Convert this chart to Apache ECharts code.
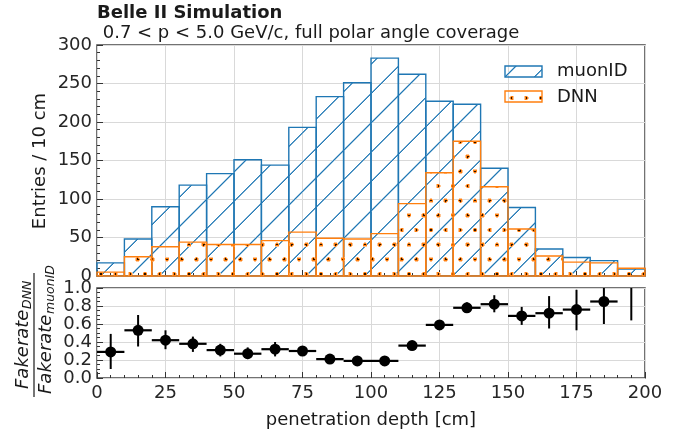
<!DOCTYPE html>
<html>
<head>
<meta charset="utf-8">
<script src="https://cdn.jsdelivr.net/npm/echarts@6/dist/echarts.min.js"></script>
<style>
  html, body { margin: 0; padding: 0; background: #fff; }
  #chart { width: 687px; height: 434px; }
</style>
</head>
<body>
<div id="chart"></div>
<script>
"use strict";

// histogram bins (10 cm wide)
const binLow = [0, 10, 20, 30, 40, 50, 60, 70, 80, 90, 100, 110, 120, 130, 140, 150, 160, 170, 180, 190];
const binWidth = 10;
const muonID = [17, 48, 90, 118, 133, 151, 144, 193, 233, 251, 283, 262, 227, 223, 140, 89, 35, 24, 20, 9];
const dnn = [5, 25, 38, 44, 41, 41, 46, 57, 49, 48, 55, 94, 134, 175, 116, 61, 26, 18, 17, 10];

// fake rate ratio DNN / muonID
const ratioX = [5, 15, 25, 35, 45, 55, 65, 75, 85, 95, 105, 115, 125, 135, 145, 155, 165, 175, 185, 195];
const ratio = [0.29, 0.53, 0.42, 0.38, 0.31, 0.27, 0.32, 0.30, 0.21, 0.19, 0.19, 0.36, 0.59, 0.78, 0.82, 0.69, 0.72, 0.76, 0.85, 1.1];
const ratioLo = [0.10, 0.35, 0.32, 0.29, 0.24, 0.21, 0.24, 0.25, 0.18, 0.16, 0.17, 0.33, 0.55, 0.73, 0.73, 0.59, 0.55, 0.53, 0.60, 0.64];
const ratioHi = [0.49, 0.70, 0.53, 0.46, 0.38, 0.34, 0.40, 0.35, 0.24, 0.22, 0.22, 0.40, 0.64, 0.84, 0.92, 0.79, 0.91, 0.98, 1.10, 1.50];

const blue = '#1f77b4';
const orange = '#ff7f0e';
const font = 'DejaVu Sans';

// pixels are written fully opaque or fully transparent (thin antialiased strokes came out dark)
function putPixel(img, w, x, y, rgb, cov) {
  const i = (y * w + x) * 4;
  const a = Math.min(1, cov);
  img.data[i] = Math.round(255 + (rgb[0] - 255) * a);
  img.data[i + 1] = Math.round(255 + (rgb[1] - 255) * a);
  img.data[i + 2] = Math.round(255 + (rgb[2] - 255) * a);
  img.data[i + 3] = 255;
}

// hatch "/" pattern, lines every 88/3 px, anchored to canvas origin
function makeHatch() {
  const w = 88, h = 88;
  const c = document.createElement('canvas');
  c.width = w; c.height = h;
  const ctx = c.getContext('2d');
  const img = ctx.createImageData(w, h);
  const step = 88 / 3;
  for (let y = 0; y < h; y++) {
    for (let x = 0; x < w; x++) {
      let d = ((x + y + 1 - 24.7) % step + step) % step;
      d = Math.min(d, step - d);
      const cov = 1 - d / 1.5;
      if (cov > 0.2) putPixel(img, w, x, y, [31, 119, 180], cov * 1.2);
    }
  }
  ctx.putImageData(img, 0, 0);
  return c;
}

// dot pattern, staggered grid every 44/3 px
function makeDots() {
  const w = 44, h = 88;
  const c = document.createElement('canvas');
  c.width = w; c.height = h;
  const ctx = c.getContext('2d');
  const img = ctx.createImageData(w, h);
  const step = 44 / 3;
  const centers = [];
  for (let j = 0; j < 6; j++) {
    const cy = 10 + j * step;
    const x0 = (j % 2 === 0) ? 13 : 13 + step / 2;
    for (let i = -1; i < 4; i++) {
      [-w, 0, w].forEach(dx => [-h, 0, h].forEach(dy => centers.push([x0 + i * step + dx, cy + dy])));
    }
  }
  for (let y = 0; y < h; y++) {
    for (let x = 0; x < w; x++) {
      let best = 99;
      centers.forEach(p => {
        const r = Math.hypot(x + 0.5 - p[0], y + 0.5 - p[1]);
        if (r < best) best = r;
      });
      if (best < 0.95) putPixel(img, w, x, y, [40, 18, 0], 1);
      else if (best < 1.9) putPixel(img, w, x, y, [255, 127, 14], 1);
      else if (best < 2.5) putPixel(img, w, x, y, [255, 127, 14], 0.45);
    }
  }
  ctx.putImageData(img, 0, 0);
  return c;
}

const hatchFill = { image: makeHatch(), repeat: 'repeat' };
const dotFill = { image: makeDots(), repeat: 'repeat' };

function histData(vals) {
  return binLow.map((x, i) => [x, x + binWidth, vals[i]]);
}

function histRender(fill, stroke) {
  return function (params, api) {
    const p0 = api.coord([api.value(0), 0]);
    const p1 = api.coord([api.value(1), api.value(2)]);
    return {
      type: 'rect',
      shape: { x: p0[0], y: p1[1], width: p1[0] - p0[0], height: p0[1] - p1[1] },
      style: { fill: fill, stroke: stroke, lineWidth: 1.4 }
    };
  };
}

const axisLabelStyle = { fontFamily: font, fontSize: 18, color: '#262626' };
const tickLine = { color: '#333', width: 1 };

var chartElem = document.getElementById('chart');
var chart = echarts.init(chartElem, null, { renderer: 'canvas' });

chart.setOption({
  animation: false,
  backgroundColor: '#fff',
  grid: [
    { left: 97, top: 45, width: 548, height: 231, show: true, borderColor: '#444', borderWidth: 1.5 },
    { left: 97, top: 288, width: 548, height: 90, show: true, borderColor: '#444', borderWidth: 1.5 }
  ],
  xAxis: [{
    type: 'value', gridIndex: 0, min: 0, max: 200, interval: 25,
    axisLine: { show: false },
    axisTick: { show: true, inside: true, length: 6, lineStyle: tickLine },
    minorTick: { show: true, splitNumber: 5, length: 3, lineStyle: tickLine },
    axisLabel: { show: false },
    splitLine: { show: true, lineStyle: { color: '#d9d9d9', width: 1 } }
  }, {
    type: 'value', gridIndex: 1, min: 0, max: 200, interval: 25,
    axisLine: { show: false },
    axisTick: { show: true, inside: true, length: 6, lineStyle: tickLine },
    minorTick: { show: true, splitNumber: 5, length: 3, lineStyle: tickLine },
    axisLabel: Object.assign({ margin: 6 }, axisLabelStyle),
    splitLine: { show: true, lineStyle: { color: '#d9d9d9', width: 1 } }
  }],
  yAxis: [{
    type: 'value', gridIndex: 0, min: 0, max: 300, interval: 50,
    axisLine: { show: false },
    axisTick: { show: true, inside: true, length: 6, lineStyle: tickLine },
    minorTick: { show: true, splitNumber: 5, length: 3, lineStyle: tickLine },
    axisLabel: Object.assign({ margin: 5 }, axisLabelStyle),
    splitLine: { show: true, lineStyle: { color: '#d9d9d9', width: 1 } }
  }, {
    type: 'value', gridIndex: 1, min: 0, max: 1, interval: 0.2,
    axisLine: { show: false },
    axisTick: { show: true, inside: true, length: 6, lineStyle: tickLine },
    minorTick: { show: true, splitNumber: 4, length: 3, lineStyle: tickLine },
    axisLabel: Object.assign({ margin: 5, formatter: v => v.toFixed(1) }, axisLabelStyle),
    splitLine: { show: true, lineStyle: { color: '#d9d9d9', width: 1 } }
  }],
  series: [{
    name: 'muonID',
    type: 'custom',
    xAxisIndex: 0, yAxisIndex: 0,
    renderItem: histRender(hatchFill, blue),
    data: histData(muonID),
    z: 3
  }, {
    name: 'DNN',
    type: 'custom',
    xAxisIndex: 0, yAxisIndex: 0,
    renderItem: histRender(dotFill, orange),
    data: histData(dnn),
    z: 4
  }, {
    name: 'ratio errors',
    type: 'custom',
    xAxisIndex: 1, yAxisIndex: 1,
    clip: true,
    renderItem: function (params, api) {
      const x = api.value(0), y = api.value(1);
      const a = api.coord([x - binWidth / 2, y]);
      const b = api.coord([x + binWidth / 2, y]);
      const lo = api.coord([x, api.value(2)]);
      const hi = api.coord([x, api.value(3)]);
      return {
        type: 'group',
        children: [{
          type: 'line',
          shape: { x1: a[0], y1: a[1], x2: b[0], y2: b[1] },
          style: { stroke: '#000', lineWidth: 2.2 }
        }, {
          type: 'line',
          shape: { x1: lo[0], y1: lo[1], x2: hi[0], y2: hi[1] },
          style: { stroke: '#000', lineWidth: 2 }
        }]
      };
    },
    data: ratioX.map((x, i) => [x, ratio[i], ratioLo[i], ratioHi[i]]),
    z: 5
  }, {
    name: 'ratio',
    type: 'scatter',
    xAxisIndex: 1, yAxisIndex: 1,
    clip: true,
    symbolSize: 11,
    itemStyle: { color: '#000', opacity: 1 },
    data: ratioX.map((x, i) => [x, ratio[i]]),
    z: 6
  }],
  graphic: [
    { type: 'text', left: 97, top: 4, style: { text: 'Belle II Simulation', font: 'bold 18px "DejaVu Sans"', fill: '#1a1a1a' } },
    { type: 'text', left: 97, top: 24, style: { text: ' 0.7 < p < 5.0 GeV/c, full polar angle coverage', font: '18px "DejaVu Sans"', fill: '#1a1a1a' } },
    { type: 'text', x: 40, y: 161, rotation: Math.PI / 2,
      style: { text: 'Entries / 10 cm', font: '18px "DejaVu Sans"', fill: '#1a1a1a', align: 'center', verticalAlign: 'middle' } },
    { type: 'text', x: 371, y: 420,
      style: { text: 'penetration depth [cm]', font: '18px "DejaVu Sans"', fill: '#1a1a1a', align: 'center', verticalAlign: 'middle' } },
    // fraction label of the ratio panel
    { type: 'group', x: 34, y: 335, rotation: Math.PI / 2, children: [
      { type: 'line', shape: { x1: -62, y1: 0, x2: 62, y2: 0 }, style: { stroke: '#1a1a1a', lineWidth: 1.2 } },
      { type: 'text', x: -54, y: -11, style: { text: 'Fakerate', font: 'italic 18px "DejaVu Sans"', fill: '#1a1a1a', verticalAlign: 'middle' } },
      { type: 'text', x: 26, y: -6, style: { text: 'DNN', font: 'italic 12.5px "DejaVu Sans"', fill: '#1a1a1a', verticalAlign: 'middle' } },
      { type: 'text', x: -59, y: 12, style: { text: 'Fakerate', font: 'italic 18px "DejaVu Sans"', fill: '#1a1a1a', verticalAlign: 'middle' } },
      { type: 'text', x: 21, y: 17, style: { text: 'muonID', font: 'italic 12.5px "DejaVu Sans"', fill: '#1a1a1a', verticalAlign: 'middle' } }
    ] },
    // legend
    { type: 'rect', shape: { x: 505, y: 66, width: 37, height: 11 }, style: { fill: hatchFill, stroke: blue, lineWidth: 1.4 }, z: 10 },
    { type: 'text', x: 557, y: 71, style: { text: 'muonID', font: '18px "DejaVu Sans"', fill: '#1a1a1a', verticalAlign: 'middle' }, z: 10 },
    { type: 'rect', shape: { x: 505, y: 91, width: 37, height: 11 }, style: { fill: dotFill, stroke: orange, lineWidth: 1.4 }, z: 10 },
    { type: 'text', x: 557, y: 97, style: { text: 'DNN', font: '18px "DejaVu Sans"', fill: '#1a1a1a', verticalAlign: 'middle' }, z: 10 }
  ]
});

window.addEventListener('resize', function () {
  setTimeout(function () {
    chart.resize();
  }, 500);
});
</script>
</body>
</html>
